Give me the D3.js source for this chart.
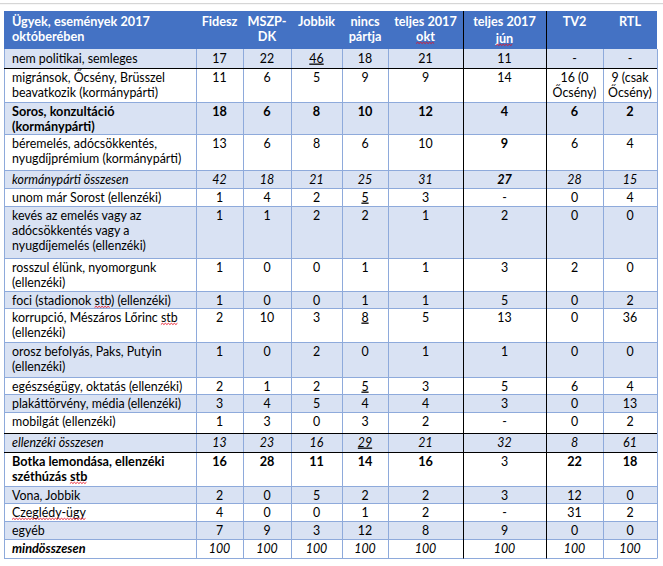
<!DOCTYPE html>
<html><head><meta charset="utf-8">
<script src="https://cdn.jsdelivr.net/npm/d3@7"></script>
<style>
body{margin:0;background:#fff}
text{font-family:Lato,sans-serif;font-size:13px;fill:#000}
</style>
</head><body><svg id="c" width="663" height="566"></svg>
<script>
// ---------- data ----------
const headers = ["Ügyek, események 2017\noktóberében","Fidesz","MSZP-\nDK","Jobbik","nincs\npártja","teljes 2017\nokt","teljes 2017\njún","TV2","RTL"];
const categories = [
  "nem politikai, semleges",
  "migránsok, Őcsény, Brüsszel\nbeavatkozik (kormánypárti)",
  "Soros, konzultáció\n(kormánypárti)",
  "béremelés, adócsökkentés,\nnyugdíjprémium (kormánypárti)",
  "kormánypárti összesen",
  "unom már Sorost (ellenzéki)",
  "kevés az emelés vagy az\nadócsökkentés vagy a\nnyugdíjemelés (ellenzéki)",
  "rosszul élünk, nyomorgunk\n(ellenzéki)",
  "foci (stadionok stb) (ellenzéki)",
  "korrupció, Mészáros Lőrinc stb\n(ellenzéki)",
  "orosz befolyás, Paks, Putyin\n(ellenzéki)",
  "egészségügy, oktatás (ellenzéki)",
  "plakáttörvény, média (ellenzéki)",
  "mobilgát (ellenzéki)",
  "ellenzéki összesen",
  "Botka lemondása, ellenzéki\nszéthúzás stb",
  "Vona, Jobbik",
  "Czeglédy-ügy",
  "egyéb",
  "mindösszesen"
];
const fidesz      = [17,11,18,13,42,1,1,1,1,2,1,2,3,1,13,16,2,4,7,100];
const mszpDk      = [22,6,6,6,18,4,1,0,0,10,0,1,4,3,23,28,0,0,9,100];
const jobbik      = [46,5,8,8,21,2,2,0,0,3,2,2,5,0,16,11,5,0,3,100];
const nincsPartja = [18,9,10,6,25,5,2,1,1,8,0,5,4,3,29,14,2,1,12,100];
const teljesOkt   = [21,9,12,10,31,3,1,1,1,5,1,3,4,2,21,16,2,2,8,100];
const teljesJun   = [11,14,4,9,27,"-",2,3,5,13,1,5,3,"-",32,3,3,"-",9,100];
const tv2         = ["-","16 (0\nŐcsény)",6,6,28,0,0,2,0,0,0,6,0,0,8,22,12,31,0,100];
const rtl         = ["-","9 (csak\nŐcsény)",2,4,15,4,0,0,2,36,0,4,13,2,61,18,0,2,0,100];
const series = [fidesz,mszpDk,jobbik,nincsPartja,teljesOkt,teljesJun,tv2,rtl];

// ---------- styles / layout (kept apart from data) ----------
const rowStyle = ["n","n","b","n","i","n","n","n","n","n","n","n","n","n","i","b","n","n","n","i"];
const labelBoldItalic = [19];
const underlinedCells = [[0,3],[5,4],[9,4],[11,4],[14,4]];   // [row, column index in headers]
const boldCells = [[3,6],[4,6]];
const plainCells = [[15,6]];
const spellWords = [[8,"stb"],[9,"stb"],[15,"stb"],[17,"Czeglédy-ügy"]];
const colEdges = [4,196,243,291,342,388,463,546,603,657];
const headerTop = 11;
const rowEdges = [49,68,102,134,170,188,206,258,291,308,342,377,394,412,433,452,486,503,521,539,558];
const blackRows = [0,13,14];
const blackCols = [6,7];
const lineH = 15;
const firstBase = 13.5;
// glyph-width calibration: widths (px) of sample strings as measured in the reference
const calibRegular = [["egészségügy, oktatás (ellenzéki)",173],["migránsok, Őcsény, Brüsszel",151]];
const calibBold = [["Ügyek, események 2017",135],["Botka lemondása, ellenzéki",163],["Soros, konzultáció",98]];

function draw(){
const svg = d3.select("#c");
function measure(s,bold){
  const t = svg.append("text").style("font-weight",bold?"bold":"normal").text(s);
  const w = t.node().getComputedTextLength(); t.remove(); return w;
}
const sxN = d3.mean(calibRegular, d => d[1]/measure(d[0],false));
const sxB = d3.mean(calibBold, d => d[1]/measure(d[0],true));

const xL = d3.scaleOrdinal().domain(d3.range(9)).range(colEdges.slice(0,9));
const xR = d3.scaleOrdinal().domain(d3.range(9)).range(colEdges.slice(1));
const yT = d3.scaleOrdinal().domain(d3.range(20)).range(rowEdges.slice(0,20));
const yB = d3.scaleOrdinal().domain(d3.range(20)).range(rowEdges.slice(1));
const xMid = c => (xL(c)+xR(c))/2;

function txt(x,y,s,bold){
  const k = bold ? sxB : sxN;
  const t = svg.append("text").attr("transform",`translate(${x},${y}) scale(${k},1)`)
    .style("font-weight",bold?"bold":"normal").text(s);
  t.k = k; return t;
}

svg.append("rect").attr("x",0).attr("y",3).attr("width",663).attr("height",1.2).attr("fill","#d6d6d6");

svg.append("rect").attr("x",colEdges[0]).attr("y",headerTop)
  .attr("width",colEdges[9]-colEdges[0]).attr("height",rowEdges[0]-headerTop).attr("fill","#4472C4");

svg.selectAll("rect.band").data(categories).join("rect").attr("class","band")
  .attr("x",colEdges[0]).attr("y",(d,i)=>yT(i))
  .attr("width",colEdges[9]-colEdges[0]).attr("height",(d,i)=>yB(i)-yT(i))
  .attr("fill",(d,i)=> i%2===0 ? "#D9E2F3" : "#FFFFFF");

svg.append("g").selectAll("line").data(d3.range(20)).join("line")
  .attr("x1",colEdges[0]).attr("x2",colEdges[9])
  .attr("y1",i=>yB(i)+0.5).attr("y2",i=>yB(i)+0.5)
  .attr("stroke","#8EAADB").attr("stroke-width",1);

svg.append("g").selectAll("line").data(d3.range(10)).join("line")
  .attr("x1",c=>colEdges[c]+0.5).attr("x2",c=>colEdges[c]+0.5)
  .attr("y1",rowEdges[0]).attr("y2",rowEdges[20]+0.5)
  .attr("stroke","#8EAADB");
svg.append("g").selectAll("line").data(blackCols).join("line")
  .attr("x1",c=>colEdges[c]+0.5).attr("x2",c=>colEdges[c]+0.5)
  .attr("y1",headerTop).attr("y2",rowEdges[20]+0.5)
  .attr("stroke","#000");
svg.append("g").selectAll("line").data(blackRows).join("line")
  .attr("x1",colEdges[0]).attr("x2",colEdges[9])
  .attr("y1",i=>yB(i)+0.5).attr("y2",i=>yB(i)+0.5).attr("stroke","#000");

function wavy(x1,x2,y){
  let p = `M${x1},${y}`; let up=true;
  for(let x=x1+1.5;x<=x2;x+=1.5){ p+=`L${x},${up?y-1.2:y}`; up=!up; }
  svg.append("path").attr("d",p).attr("fill","none").attr("stroke","#e81123").attr("stroke-width",0.9);
}

headers.forEach((h,c)=>{
  h.split("\n").forEach((ln,k)=>{
    const y = headerTop+14.5 + k*lineH + (c===6&&k===1?2:0);
    const t = txt(c===0 ? colEdges[0]+8 : xMid(c), y, ln, true)
      .attr("text-anchor", c===0?"start":"middle").style("fill","#fff");
    if((c===5||c===6)&&k===1){
      const w = t.node().getComputedTextLength()*t.k;
      wavy(xMid(c)-w/2, xMid(c)+w/2, y+3);
    }
  });
});

categories.forEach((lab,r)=>{
  const st = rowStyle[r];
  const bold = st==="b"||labelBoldItalic.includes(r);
  lab.split("\n").forEach((ln,k)=>{
    const y = yT(r)+firstBase + k*lineH;
    const t = txt(colEdges[0]+8, y, ln, bold)
      .style("font-style", st==="i"?"italic":"normal");
    spellWords.filter(s=>s[0]===r).forEach(s=>{
      const idx = ln.indexOf(s[1]);
      if(idx>=0){
        const node=t.node();
        const x0 = colEdges[0]+8 + (idx>0?node.getSubStringLength(0,idx):0)*t.k;
        const w = node.getSubStringLength(idx,s[1].length)*t.k;
        wavy(x0,x0+w,y+3);
      }
    });
  });
});

series.forEach((vals,si)=>{
  const c = si+1;
  vals.forEach((v,r)=>{
    const st = rowStyle[r];
    let bold = st==="b" && r!==19;
    if(boldCells.some(b=>b[0]===r&&b[1]===c)) bold=true;
    if(plainCells.some(b=>b[0]===r&&b[1]===c)) bold=false;
    const ul = underlinedCells.some(b=>b[0]===r&&b[1]===c);
    String(v).split("\n").forEach((ln,k)=>{
      txt(xMid(c), yT(r)+firstBase+k*lineH, ln, bold)
        .attr("text-anchor","middle")
        .style("font-style",st==="i"?"italic":"normal")
        .style("text-decoration",ul?"underline":"none");
    });
  });
});
}
Promise.all([
  document.fonts.load("13px Lato"), document.fonts.load("bold 13px Lato"),
  document.fonts.load("italic 13px Lato"), document.fonts.load("italic bold 13px Lato")
]).catch(()=>{}).then(draw);
</script></body></html>
